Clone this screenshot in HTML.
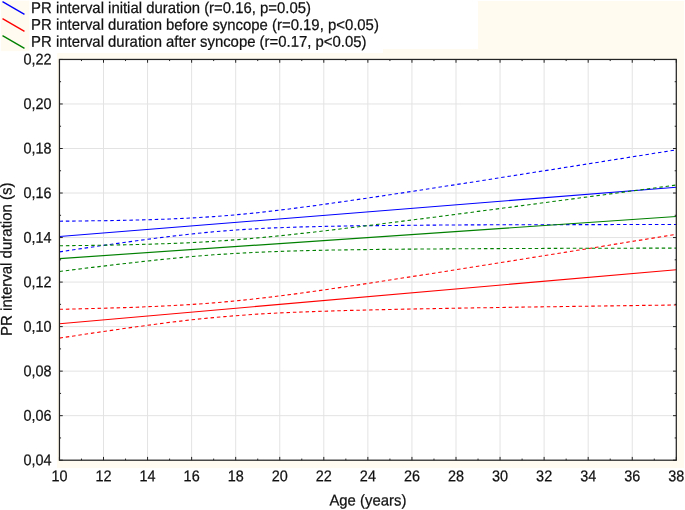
<!DOCTYPE html>
<html><head><meta charset="utf-8"><title>PR interval duration vs age</title>
<style>
html,body{margin:0;padding:0;background:#fff;}
svg{display:block;}
text{font-family:"Liberation Sans",sans-serif;font-size:15.6px;fill:#111;stroke:#111;stroke-width:0.25px;}
</style></head>
<body>
<svg width="685" height="510" viewBox="0 0 685 510">
<rect x="0" y="0" width="685" height="510" fill="#ffffff"/>
<rect x="1" y="0.8" width="28.3" height="50.3" fill="#fffbf0"/>
<rect x="57" y="53" width="626.9" height="415.1" fill="#fffbf0"/>
<rect x="478" y="1" width="205.9" height="53" fill="#fffbf0"/>
<rect x="383.1" y="49" width="100" height="5" fill="#fffbf0"/>
<rect x="59.45" y="59.45" width="616.85" height="400.75" fill="#ffffff"/>
<path d="M103.51 59.45V460.2M147.57 59.45V460.2M191.63 59.45V460.2M235.69 59.45V460.2M279.75 59.45V460.2M323.81 59.45V460.2M367.87 59.45V460.2M411.94 59.45V460.2M456.00 59.45V460.2M500.06 59.45V460.2M544.12 59.45V460.2M588.18 59.45V460.2M632.24 59.45V460.2M59.45 103.98H676.3M59.45 148.51H676.3M59.45 193.03H676.3M59.45 237.56H676.3M59.45 282.09H676.3M59.45 326.62H676.3M59.45 371.14H676.3M59.45 415.67H676.3" stroke="#e3e3e3" stroke-width="1" fill="none"/>
<clipPath id="pc"><rect x="59.45" y="59.45" width="616.85" height="400.75"/></clipPath>
<g clip-path="url(#pc)" fill="none" stroke-width="1.15">
<path d="M59.5 236.5L676.3 187.2" stroke="#0000ff"/>
<path d="M59.5 221.2L70.5 221.1L81.5 221.0L92.5 220.8L103.5 220.7L114.5 220.5L125.5 220.3L136.6 220.0L147.6 219.7L158.6 219.4L169.6 219.0L180.6 218.5L191.6 218.0L202.6 217.3L213.7 216.6L224.7 215.8L235.7 214.8L246.7 213.8L257.7 212.7L268.7 211.4L279.8 210.1L290.8 208.8L301.8 207.3L312.8 205.9L323.8 204.4L334.8 202.8L345.8 201.2L356.9 199.6L367.9 198.0L378.9 196.4L389.9 194.7L400.9 193.1L411.9 191.4L423.0 189.7L434.0 188.0L445.0 186.3L456.0 184.6L467.0 182.9L478.0 181.2L489.0 179.5L500.1 177.7L511.1 176.0L522.1 174.3L533.1 172.5L544.1 170.8L555.1 169.1L566.1 167.3L577.2 165.6L588.2 163.8L599.2 162.1L610.2 160.3L621.2 158.6L632.2 156.8L643.3 155.1L654.3 153.3L665.3 151.6L676.3 149.8" stroke="#0000ff" stroke-width="1.1" stroke-dasharray="3.5 2.85"/>
<path d="M59.5 251.9L70.5 250.2L81.5 248.6L92.5 247.0L103.5 245.4L114.5 243.8L125.5 242.3L136.6 240.7L147.6 239.3L158.6 237.8L169.6 236.5L180.6 235.2L191.6 234.0L202.6 232.8L213.7 231.8L224.7 230.9L235.7 230.0L246.7 229.3L257.7 228.7L268.7 228.1L279.8 227.7L290.8 227.3L301.8 226.9L312.8 226.7L323.8 226.4L334.8 226.2L345.8 226.0L356.9 225.8L367.9 225.7L378.9 225.6L389.9 225.5L400.9 225.4L411.9 225.3L423.0 225.2L434.0 225.1L445.0 225.0L456.0 225.0L467.0 224.9L478.0 224.9L489.0 224.8L500.1 224.8L511.1 224.8L522.1 224.7L533.1 224.7L544.1 224.7L555.1 224.7L566.1 224.6L577.2 224.6L588.2 224.6L599.2 224.6L610.2 224.6L621.2 224.5L632.2 224.5L643.3 224.5L654.3 224.5L665.3 224.5L676.3 224.5" stroke="#0000ff" stroke-width="1.1" stroke-dasharray="3.5 2.85"/>
<path d="M59.5 323.7L676.3 269.7" stroke="#ff0000"/>
<path d="M59.5 309.3L70.5 309.1L81.5 308.8L92.5 308.5L103.5 308.2L114.5 307.9L125.5 307.6L136.6 307.2L147.6 306.7L158.6 306.3L169.6 305.7L180.6 305.1L191.6 304.5L202.6 303.7L213.7 302.9L224.7 301.9L235.7 300.9L246.7 299.8L257.7 298.5L268.7 297.3L279.8 295.9L290.8 294.5L301.8 293.0L312.8 291.5L323.8 289.9L334.8 288.3L345.8 286.7L356.9 285.1L367.9 283.4L378.9 281.7L389.9 280.0L400.9 278.3L411.9 276.6L423.0 274.9L434.0 273.2L445.0 271.5L456.0 269.7L467.0 268.0L478.0 266.2L489.0 264.5L500.1 262.7L511.1 261.0L522.1 259.2L533.1 257.4L544.1 255.7L555.1 253.9L566.1 252.1L577.2 250.3L588.2 248.6L599.2 246.8L610.2 245.0L621.2 243.2L632.2 241.4L643.3 239.7L654.3 237.9L665.3 236.1L676.3 234.3" stroke="#ff0000" stroke-width="1.1" stroke-dasharray="3.5 2.85"/>
<path d="M59.5 338.1L70.5 336.4L81.5 334.8L92.5 333.1L103.5 331.5L114.5 329.9L125.5 328.3L136.6 326.8L147.6 325.3L158.6 323.8L169.6 322.4L180.6 321.1L191.6 319.8L202.6 318.6L213.7 317.6L224.7 316.6L235.7 315.7L246.7 314.9L257.7 314.1L268.7 313.5L279.8 312.9L290.8 312.4L301.8 312.0L312.8 311.6L323.8 311.2L334.8 310.9L345.8 310.5L356.9 310.3L367.9 310.0L378.9 309.7L389.9 309.5L400.9 309.2L411.9 309.0L423.0 308.8L434.0 308.6L445.0 308.4L456.0 308.2L467.0 308.0L478.0 307.8L489.0 307.7L500.1 307.5L511.1 307.3L522.1 307.1L533.1 307.0L544.1 306.8L555.1 306.7L566.1 306.5L577.2 306.3L588.2 306.2L599.2 306.0L610.2 305.9L621.2 305.7L632.2 305.6L643.3 305.4L654.3 305.3L665.3 305.1L676.3 305.0" stroke="#ff0000" stroke-width="1.1" stroke-dasharray="3.5 2.85"/>
<path d="M59.5 258.6L676.3 216.5" stroke="#008000"/>
<path d="M59.5 245.8L70.5 245.6L81.5 245.5L92.5 245.4L103.5 245.2L114.5 245.0L125.5 244.8L136.6 244.5L147.6 244.2L158.6 243.9L169.6 243.5L180.6 243.1L191.6 242.6L202.6 242.0L213.7 241.4L224.7 240.6L235.7 239.8L246.7 238.9L257.7 237.9L268.7 236.9L279.8 235.8L290.8 234.6L301.8 233.4L312.8 232.2L323.8 230.9L334.8 229.6L345.8 228.3L356.9 227.0L367.9 225.6L378.9 224.2L389.9 222.8L400.9 221.4L411.9 220.0L423.0 218.6L434.0 217.2L445.0 215.8L456.0 214.3L467.0 212.9L478.0 211.4L489.0 210.0L500.1 208.5L511.1 207.1L522.1 205.6L533.1 204.2L544.1 202.7L555.1 201.2L566.1 199.8L577.2 198.3L588.2 196.8L599.2 195.4L610.2 193.9L621.2 192.4L632.2 190.9L643.3 189.5L654.3 188.0L665.3 186.5L676.3 185.0" stroke="#008000" stroke-width="1.1" stroke-dasharray="3.5 2.85"/>
<path d="M59.5 271.5L70.5 270.1L81.5 268.7L92.5 267.4L103.5 266.1L114.5 264.7L125.5 263.5L136.6 262.2L147.6 261.0L158.6 259.8L169.6 258.7L180.6 257.6L191.6 256.6L202.6 255.7L213.7 254.8L224.7 254.1L235.7 253.4L246.7 252.8L257.7 252.3L268.7 251.8L279.8 251.4L290.8 251.0L301.8 250.7L312.8 250.5L323.8 250.2L334.8 250.0L345.8 249.9L356.9 249.7L367.9 249.6L378.9 249.4L389.9 249.3L400.9 249.2L411.9 249.1L423.0 249.0L434.0 249.0L445.0 248.9L456.0 248.8L467.0 248.8L478.0 248.7L489.0 248.6L500.1 248.6L511.1 248.5L522.1 248.5L533.1 248.5L544.1 248.4L555.1 248.4L566.1 248.3L577.2 248.3L588.2 248.3L599.2 248.2L610.2 248.2L621.2 248.2L632.2 248.2L643.3 248.1L654.3 248.1L665.3 248.1L676.3 248.1" stroke="#008000" stroke-width="1.1" stroke-dasharray="3.5 2.85"/>
</g>
<path d="M59.45 59.45v3.3M59.45 460.2v-3.3M81.48 59.45v1.6M81.48 460.2v-1.6M103.51 59.45v3.3M103.51 460.2v-3.3M125.54 59.45v1.6M125.54 460.2v-1.6M147.57 59.45v3.3M147.57 460.2v-3.3M169.60 59.45v1.6M169.60 460.2v-1.6M191.63 59.45v3.3M191.63 460.2v-3.3M213.66 59.45v1.6M213.66 460.2v-1.6M235.69 59.45v3.3M235.69 460.2v-3.3M257.72 59.45v1.6M257.72 460.2v-1.6M279.75 59.45v3.3M279.75 460.2v-3.3M301.78 59.45v1.6M301.78 460.2v-1.6M323.81 59.45v3.3M323.81 460.2v-3.3M345.84 59.45v1.6M345.84 460.2v-1.6M367.87 59.45v3.3M367.87 460.2v-3.3M389.91 59.45v1.6M389.91 460.2v-1.6M411.94 59.45v3.3M411.94 460.2v-3.3M433.97 59.45v1.6M433.97 460.2v-1.6M456.00 59.45v3.3M456.00 460.2v-3.3M478.03 59.45v1.6M478.03 460.2v-1.6M500.06 59.45v3.3M500.06 460.2v-3.3M522.09 59.45v1.6M522.09 460.2v-1.6M544.12 59.45v3.3M544.12 460.2v-3.3M566.15 59.45v1.6M566.15 460.2v-1.6M588.18 59.45v3.3M588.18 460.2v-3.3M610.21 59.45v1.6M610.21 460.2v-1.6M632.24 59.45v3.3M632.24 460.2v-3.3M654.27 59.45v1.6M654.27 460.2v-1.6M676.30 59.45v3.3M676.30 460.2v-3.3M59.45 59.45h3.3M676.3 59.45h-3.3M59.45 81.71h1.6M676.3 81.71h-1.6M59.45 103.98h3.3M676.3 103.98h-3.3M59.45 126.24h1.6M676.3 126.24h-1.6M59.45 148.51h3.3M676.3 148.51h-3.3M59.45 170.77h1.6M676.3 170.77h-1.6M59.45 193.03h3.3M676.3 193.03h-3.3M59.45 215.30h1.6M676.3 215.30h-1.6M59.45 237.56h3.3M676.3 237.56h-3.3M59.45 259.82h1.6M676.3 259.82h-1.6M59.45 282.09h3.3M676.3 282.09h-3.3M59.45 304.35h1.6M676.3 304.35h-1.6M59.45 326.62h3.3M676.3 326.62h-3.3M59.45 348.88h1.6M676.3 348.88h-1.6M59.45 371.14h3.3M676.3 371.14h-3.3M59.45 393.41h1.6M676.3 393.41h-1.6M59.45 415.67h3.3M676.3 415.67h-3.3M59.45 437.94h1.6M676.3 437.94h-1.6M59.45 460.20h3.3M676.3 460.20h-3.3" stroke="#242424" stroke-width="1" fill="none"/>
<rect x="59.45" y="59.45" width="616.85" height="400.75" fill="none" stroke="#242424" stroke-width="1.25"/>
<text transform="translate(51.60 64.55) scale(0.925 1) rotate(0.03)" text-anchor="end">0,22</text>
<text transform="translate(51.60 109.08) scale(0.925 1) rotate(0.03)" text-anchor="end">0,20</text>
<text transform="translate(51.60 153.61) scale(0.925 1) rotate(0.03)" text-anchor="end">0,18</text>
<text transform="translate(51.60 198.13) scale(0.925 1) rotate(0.03)" text-anchor="end">0,16</text>
<text transform="translate(51.60 242.66) scale(0.925 1) rotate(0.03)" text-anchor="end">0,14</text>
<text transform="translate(51.60 287.19) scale(0.925 1) rotate(0.03)" text-anchor="end">0,12</text>
<text transform="translate(51.60 331.72) scale(0.925 1) rotate(0.03)" text-anchor="end">0,10</text>
<text transform="translate(51.60 376.24) scale(0.925 1) rotate(0.03)" text-anchor="end">0,08</text>
<text transform="translate(51.60 420.77) scale(0.925 1) rotate(0.03)" text-anchor="end">0,06</text>
<text transform="translate(51.60 465.30) scale(0.925 1) rotate(0.03)" text-anchor="end">0,04</text>
<text transform="translate(59.45 481.30) scale(0.925 1) rotate(0.03)" text-anchor="middle">10</text>
<text transform="translate(103.51 481.30) scale(0.925 1) rotate(0.03)" text-anchor="middle">12</text>
<text transform="translate(147.57 481.30) scale(0.925 1) rotate(0.03)" text-anchor="middle">14</text>
<text transform="translate(191.63 481.30) scale(0.925 1) rotate(0.03)" text-anchor="middle">16</text>
<text transform="translate(235.69 481.30) scale(0.925 1) rotate(0.03)" text-anchor="middle">18</text>
<text transform="translate(279.75 481.30) scale(0.925 1) rotate(0.03)" text-anchor="middle">20</text>
<text transform="translate(323.81 481.30) scale(0.925 1) rotate(0.03)" text-anchor="middle">22</text>
<text transform="translate(367.87 481.30) scale(0.925 1) rotate(0.03)" text-anchor="middle">24</text>
<text transform="translate(411.94 481.30) scale(0.925 1) rotate(0.03)" text-anchor="middle">26</text>
<text transform="translate(456.00 481.30) scale(0.925 1) rotate(0.03)" text-anchor="middle">28</text>
<text transform="translate(500.06 481.30) scale(0.925 1) rotate(0.03)" text-anchor="middle">30</text>
<text transform="translate(544.12 481.30) scale(0.925 1) rotate(0.03)" text-anchor="middle">32</text>
<text transform="translate(588.18 481.30) scale(0.925 1) rotate(0.03)" text-anchor="middle">34</text>
<text transform="translate(632.24 481.30) scale(0.925 1) rotate(0.03)" text-anchor="middle">36</text>
<text transform="translate(676.30 481.30) scale(0.925 1) rotate(0.03)" text-anchor="middle">38</text>
<text transform="translate(367.88 505.50) scale(0.955 1) rotate(0.03)" text-anchor="middle">Age (years)</text>
<text transform="translate(11.6 259.22) rotate(-90.03) scale(0.963 1)" text-anchor="middle">PR interval duration (s)</text>
<path d="M2.5 1.6L24.5 14.45" stroke="#0000ff" stroke-width="1.35" fill="none"/>
<text transform="translate(31.10 12.90) scale(0.955 1) rotate(0.03)" text-anchor="start">PR interval initial duration (r=0.16, p=0.05)</text>
<path d="M2.5 18.6L24.5 31.45" stroke="#ff0000" stroke-width="1.35" fill="none"/>
<text transform="translate(31.10 29.80) scale(0.955 1) rotate(0.03)" text-anchor="start">PR interval duration before syncope (r=0.19, p&lt;0.05)</text>
<path d="M2.5 35.6L24.5 48.45" stroke="#008000" stroke-width="1.35" fill="none"/>
<text transform="translate(31.10 46.70) scale(0.955 1) rotate(0.03)" text-anchor="start">PR interval duration after syncope (r=0.17, p&lt;0.05)</text>
</svg>
</body></html>
